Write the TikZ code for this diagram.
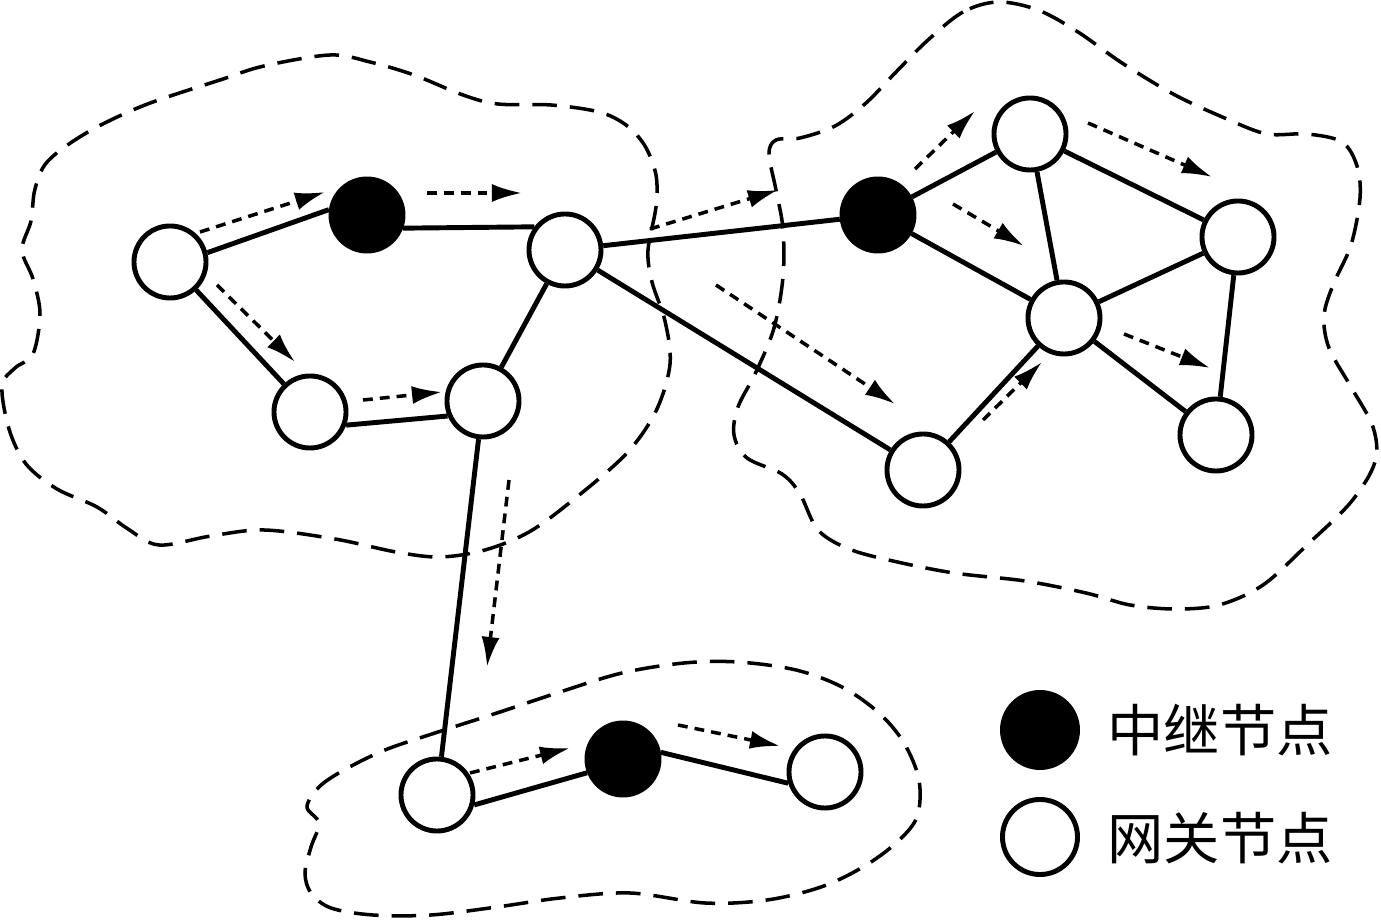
\documentclass[tikz,border=0pt]{standalone}
\usepackage{fontspec}
\newfontfamily\cjk{Noto Sans CJK SC}
\usetikzlibrary{arrows.meta}

\begin{document}
\begin{tikzpicture}
  [x=0.01cm,y=-0.01cm,
   gw/.style={circle,draw,line width=1.4pt,minimum size=0.72cm,inner sep=0pt,fill=white},
   relay/.style={gw,fill=black},
   flow/.style={-{Latex[length=3mm,width=1.8mm]},line width=1pt,dash pattern=on 2.8pt off 2pt},
   zone/.style={line width=1pt,dash pattern=on 7pt off 3.7pt},
   legend/.style={font=\cjk\fontsize{16}{16}\selectfont,anchor=west,inner sep=0pt}]
  \useasboundingbox (0,0) rectangle (1381,922);

  % clusters
  \draw[zone] plot[smooth cycle,tension=0.55] coordinates {
    (330,55) (264,66) (220,80) (145,105) (88,132) (48,161) (35,189) (31,221)
    (22,250) (33,279) (40,314) (33,354) (15,368) (2,386) (9,429) (26,464)
    (57,489) (97,507) (128,529) (159,545) (211,536) (264,530) (335,539)
    (396,552) (440,557) (485,550) (529,532) (573,500) (626,454) (656,411)
    (670,364) (665,321) (652,282) (648,250) (656,207) (656,175) (645,146)
    (626,125) (599,112) (551,105) (498,104) (463,95) (414,75) (370,62)};
  \draw[zone] plot[smooth cycle,tension=0.55] coordinates {
    (998,2) (963,12) (928,40) (897,71) (866,103) (835,126) (800,138) (776,140)
    (769,154) (776,190) (783,229) (783,277) (774,328) (756,372) (738,407)
    (734,435) (747,458) (782,474) (800,494) (818,530) (849,549) (893,561)
    (954,573) (1025,581) (1086,593) (1130,605) (1175,609) (1219,605)
    (1263,585) (1307,545) (1351,502) (1375,462) (1373,427) (1351,387)
    (1329,348) (1324,316) (1333,285) (1351,245) (1360,198) (1357,166)
    (1342,142) (1307,134) (1267,134) (1227,119) (1175,95) (1122,63)
    (1078,32) (1038,10)};
  \draw[zone] plot[smooth cycle,tension=0.55] coordinates {
    (307,807) (319,787) (344,770) (385,750) (435,733) (497,713) (560,692)
    (622,673) (684,663) (738,662) (796,670) (842,687) (879,713) (904,743)
    (919,780) (917,817) (896,843) (863,867) (821,887) (767,900) (705,903)
    (630,893) (560,898) (497,907) (431,915) (373,915) (331,908) (311,893)
    (305,873) (311,847) (319,823)};

  % nodes
  \node[gw] (a1) at (170,262) {};
  \node[relay] (a2) at (367,215) {};
  \node[gw] (a3) at (565,250) {};
  \node[gw] (a4) at (310,412) {};
  \node[gw] (a5) at (483,401) {};
  \node[relay] (b1) at (878,215) {};
  \node[gw] (b2) at (1030,134) {};
  \node[gw] (b3) at (1238,237) {};
  \node[gw] (b4) at (1064,318) {};
  \node[gw] (b5) at (923,470) {};
  \node[gw] (b6) at (1216,435) {};
  \node[gw] (c1) at (437,795) {};
  \node[relay] (c2) at (623,759) {};
  \node[gw] (c3) at (825,772) {};

  \path[-,draw,line width=1.4pt]
    (a1.14) edge (a2.172)
    (a2.-20) edge (a3.143)
    (a1) edge (a4)
    (a4.-20) edge (a5.-157)
    (a5) edge (a3)
    (a3) edge (b1)
    (a3) edge (b5)
    (a5) edge (c1)
    (b1) edge (b2)
    (b1) edge (b4)
    (b2) edge (b4)
    (b2) edge (b3)
    (b4) edge (b3)
    (b3) edge (b6)
    (b4) edge (b6)
    (b5) edge (b4)
    (c1.-15) edge (c2.-159)
    (c2.10) edge (c3.-163)
    ;

  % forwarding direction
  \coordinate (f1s) at (200,232);  \coordinate (f1e) at (325,192);
  \coordinate (f2s) at (427,193);  \coordinate (f2e) at (522,193);
  \coordinate (f3s) at (217,285);  \coordinate (f3e) at (295,362);
  \coordinate (f4s) at (363,400);  \coordinate (f4e) at (442,392);
  \coordinate (f5s) at (650,229);  \coordinate (f5e) at (778,190);
  \coordinate (f6s) at (716,285);  \coordinate (f6e) at (895,404);
  \coordinate (f7s) at (509,480);  \coordinate (f7e) at (487,667);
  \coordinate (f8s) at (470,773);  \coordinate (f8e) at (570,748);
  \coordinate (f9s) at (678,725);  \coordinate (f9e) at (780,746);
  \coordinate (f10s) at (915,169); \coordinate (f10e) at (975,111);
  \coordinate (f11s) at (953,204); \coordinate (f11e) at (1024,246);
  \coordinate (f12s) at (1088,123); \coordinate (f12e) at (1212,177);
  \coordinate (f13s) at (1124,334); \coordinate (f13e) at (1210,368);
  \coordinate (f14s) at (983,420); \coordinate (f14e) at (1042,362);
  \path[flow]
    (f1s) edge (f1e)
    (f2s) edge (f2e)
    (f3s) edge (f3e)
    (f4s) edge (f4e)
    (f5s) edge (f5e)
    (f6s) edge (f6e)
    (f7s) edge (f7e)
    (f8s) edge (f8e)
    (f9s) edge (f9e)
    (f10s) edge (f10e)
    (f11s) edge (f11e)
    (f12s) edge (f12e)
    (f13s) edge (f13e)
    (f14s) edge (f14e)
    ;

  % legend
  \node[relay,minimum size=0.75cm] (k1) at (1040,730) {};
  \node[gw,minimum size=0.75cm] (k2) at (1040,837) {};
  \node[legend] (t1) at (1107,730) {中继节点};
  \node[legend] (t2) at (1107,838) {网关节点};
\end{tikzpicture}
\end{document}
